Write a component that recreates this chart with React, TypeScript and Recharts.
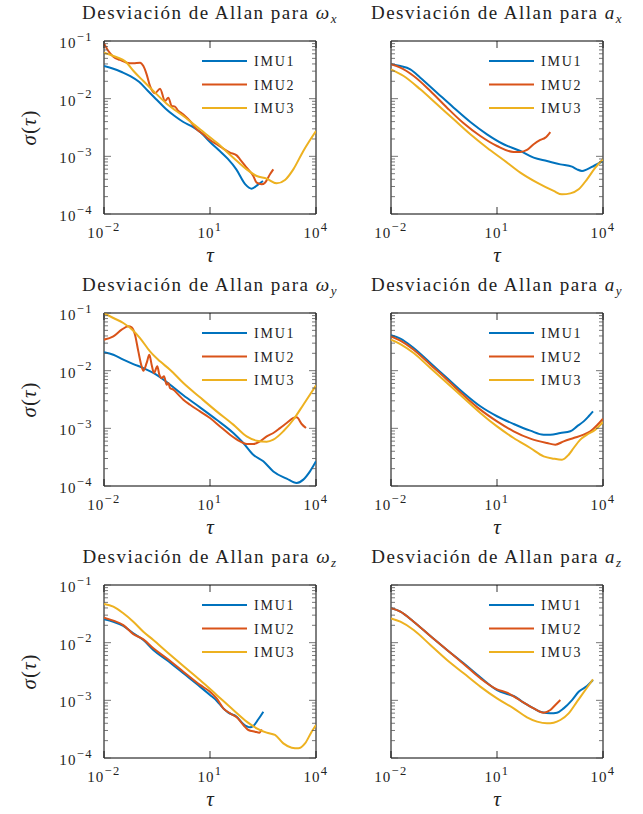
import React from 'react';
import { LineChart, Line, XAxis, YAxis, ReferenceArea, Legend } from 'recharts';

const BLUE = '#0072BD';
const RED = '#D95319';
const YELLOW = '#EDB120';
const FONT = '"Liberation Serif", "Times New Roman", serif';

const imuNames = ['IMU1', 'IMU2', 'IMU3'];
const xTicks = [0.01, 10, 10000];
const yTicks = [
  1e-4, 2e-4, 3e-4, 4e-4, 5e-4, 6e-4, 7e-4, 8e-4, 9e-4,
  1e-3, 2e-3, 3e-3, 4e-3, 5e-3, 6e-3, 7e-3, 8e-3, 9e-3,
  1e-2, 2e-2, 3e-2, 4e-2, 5e-2, 6e-2, 7e-2, 8e-2, 9e-2, 1e-1,
];

// [tau, sigma]
const wxImu1 = [[0.01,0.0368],[0.0184,0.0331],[0.0316,0.029],[0.0556,0.0247],[0.1,0.0195],[0.176,0.0136],[0.316,0.0095],[0.557,0.0067],[1,0.005],[1.76,0.00394],[3.16,0.00327],[5.56,0.00257],[10,0.00177],[17.6,0.00129],[31.6,0.00091],[55.5,0.000595],[100,0.000327],[151,0.000275],[233,0.000327],[316,0.000374]];
const wxImu2 = [[0.01,0.0912],[0.0133,0.0671],[0.0184,0.0535],[0.0284,0.0469],[0.0438,0.0421],[0.0676,0.041],[0.1045,0.0421],[0.13,0.0368],[0.161,0.0264],[0.2,0.0166],[0.277,0.0124],[0.385,0.0149],[0.532,0.00912],[0.662,0.0104],[0.822,0.00746],[1.02,0.00727],[1.27,0.00611],[1.58,0.00557],[1.96,0.005],[2.72,0.0041],[4.19,0.00294],[6.48,0.00241],[10,0.00192],[15.4,0.00162],[23.8,0.00136],[36.8,0.00116],[56.9,0.00104],[70.6,0.000888],[109,0.000636],[168,0.000456],[209,0.000349],[290,0.000327],[360,0.000349],[499,0.000488],[620,0.000595]];
const wxImu3 = [[0.01,0.0628],[0.0184,0.055],[0.0438,0.0421],[0.0676,0.0305],[0.13,0.0202],[0.249,0.0136],[0.594,0.00819],[1.76,0.005],[5.21,0.00294],[15.4,0.00173],[45.7,0.000948],[109,0.000595],[209,0.000456],[402,0.00041],[771,0.00034],[1327,0.000389],[2281,0.000595],[4382,0.00124],[10000,0.00275]];

const axImu1 = [[0.01,0.0394],[0.0184,0.0368],[0.0352,0.0323],[0.0676,0.0231],[0.2,0.0127],[0.594,0.00698],[1.76,0.00394],[5.21,0.00241],[15.4,0.00162],[45.7,0.00124],[109,0.000948],[260,0.00083],[620,0.000726],[1327,0.000662],[1837,0.000595],[2546,0.000557],[3524,0.000595],[5445,0.00068],[10000,0.00083]];
const axImu2 = [[0.01,0.0394],[0.0184,0.0345],[0.0438,0.0247],[0.13,0.0136],[0.385,0.00698],[1.14,0.00374],[3.37,0.00225],[10,0.00151],[29.6,0.00119],[45.7,0.00119],[70.6,0.00129],[109,0.00162],[168,0.00192],[233,0.00211],[323,0.00264]];
const axImu3 = [[0.01,0.0323],[0.0228,0.0247],[0.0676,0.0145],[0.2,0.00798],[0.594,0.00438],[1.76,0.00241],[5.21,0.00141],[15.4,0.000864],[45.7,0.000521],[136,0.000349],[402,0.000251],[691,0.000219],[1189,0.000228],[2047,0.000268],[3524,0.000399],[6068,0.000636],[10000,0.000888]];

const wyImu1 = [[0.01,0.0208],[0.0184,0.0189],[0.0352,0.0155],[0.0676,0.013],[0.13,0.0111],[0.249,0.00912],[0.594,0.00636],[1.76,0.00374],[5.21,0.00231],[15.4,0.00141],[45.7,0.00083],[87.8,0.000557],[168,0.000349],[323,0.000268],[620,0.000179],[1479,0.000134],[2838,0.000113],[4382,0.000129],[6761,0.000179],[10000,0.000268]];
const wyImu2 = [[0.01,0.0345],[0.0184,0.0394],[0.0316,0.0514],[0.0489,0.0588],[0.0607,0.0564],[0.0754,0.0421],[0.0937,0.0216],[0.116,0.0119],[0.13,0.01],[0.161,0.0136],[0.192,0.0189],[0.223,0.0127],[0.26,0.00912],[0.323,0.0119],[0.368,0.00853],[0.429,0.00746],[0.499,0.00798],[0.594,0.00572],[0.662,0.00611],[0.738,0.005],[0.917,0.00469],[1.27,0.00384],[1.76,0.00314],[2.72,0.00257],[5.21,0.00197],[10,0.00151],[19.2,0.00108],[36.8,0.000776],[70.6,0.000595],[109,0.000535],[168,0.000535],[260,0.000595],[402,0.000726],[620,0.00083],[958,0.00101],[1479,0.00124],[2281,0.00151],[2838,0.00155],[3928,0.00119],[5212,0.00101]];
const wyImu3 = [[0.01,0.1],[0.0184,0.0819],[0.0352,0.0671],[0.0676,0.0494],[0.1045,0.0368],[0.2,0.0216],[0.385,0.0145],[0.738,0.0104],[1.76,0.00611],[5.21,0.00345],[15.4,0.00197],[45.7,0.00116],[109,0.000726],[209,0.000611],[402,0.000588],[620,0.000636],[1189,0.000888],[2281,0.00141],[4382,0.00257],[10000,0.00557]];

const ayImu1 = [[0.01,0.041],[0.0184,0.0359],[0.0438,0.0247],[0.13,0.0136],[0.385,0.00746],[1.14,0.0041],[3.37,0.00241],[10,0.00162],[29.6,0.00119],[87.8,0.000912],[209,0.000776],[323,0.000776],[620,0.00083],[1189,0.000888],[1837,0.00108],[2838,0.00132],[3928,0.00162],[5212,0.00197]];
const ayImu2 = [[0.01,0.0394],[0.0184,0.0331],[0.0438,0.0231],[0.13,0.0127],[0.385,0.00698],[1.14,0.00374],[3.37,0.00211],[10,0.00132],[29.6,0.000888],[87.8,0.000662],[260,0.000557],[448,0.000521],[771,0.000595],[1479,0.00068],[2838,0.000776],[4382,0.000888],[6761,0.00113],[10000,0.00147]];
const ayImu3 = [[0.01,0.0345],[0.0184,0.029],[0.0438,0.0202],[0.13,0.0111],[0.385,0.00611],[1.14,0.00336],[3.37,0.00185],[10,0.00108],[29.6,0.00068],[87.8,0.000456],[209,0.000327],[402,0.000298],[691,0.000286],[1067,0.000349],[1479,0.000456],[2281,0.000636],[3524,0.000776],[6068,0.000948],[10000,0.00129]];

const wzImu1 = [[0.01,0.0254],[0.0184,0.0231],[0.0352,0.0195],[0.0676,0.0145],[0.13,0.0111],[0.249,0.00746],[0.594,0.005],[1.76,0.00294],[5.21,0.00173],[10,0.00124],[15.4,0.000986],[23.8,0.000726],[33,0.000611],[56.9,0.000521],[87.8,0.000389],[136,0.00034],[168,0.000359],[233,0.000469],[323,0.000636]];
const wzImu2 = [[0.01,0.0272],[0.0184,0.0241],[0.0352,0.0202],[0.0676,0.0141],[0.13,0.0114],[0.249,0.00798],[0.594,0.00535],[1.76,0.00314],[5.21,0.00185],[10,0.00141],[15.4,0.00108],[23.8,0.000726],[36.8,0.000595],[56.9,0.000507],[87.8,0.000374],[122,0.000306],[188,0.000286],[249,0.000275],[290,0.000314]];
const wzImu3 = [[0.01,0.0469],[0.0184,0.0421],[0.0352,0.0323],[0.0676,0.0231],[0.13,0.0155],[0.249,0.0111],[0.594,0.00698],[1.76,0.00394],[5.21,0.00225],[15.4,0.00124],[45.7,0.00068],[109,0.000427],[209,0.000327],[402,0.000275],[691,0.000251],[1189,0.000179],[2047,0.000151],[3162,0.000147],[4887,0.000179],[7535,0.000286],[10000,0.000374]];

const azImu1 = [[0.01,0.0394],[0.0184,0.0345],[0.0438,0.0231],[0.13,0.013],[0.385,0.00746],[1.14,0.00438],[3.37,0.00251],[10,0.00151],[19.2,0.00129],[29.6,0.00119],[56.9,0.000912],[109,0.000726],[188,0.000619],[323,0.000595],[499,0.000611],[771,0.000726],[1327,0.00101],[2047,0.00141],[3524,0.00177],[5212,0.00225]];
const azImu2 = [[0.01,0.0394],[0.0184,0.0345],[0.0438,0.0231],[0.13,0.013],[0.385,0.00746],[1.14,0.00427],[3.37,0.00241],[10,0.00155],[19.2,0.00136],[36.8,0.00108],[56.9,0.000912],[109,0.000726],[209,0.000611],[323,0.00068],[448,0.00083],[620,0.00101]];
const azImu3 = [[0.01,0.0264],[0.0184,0.0231],[0.0438,0.0166],[0.13,0.00912],[0.385,0.005],[1.14,0.00294],[3.37,0.00173],[10,0.00108],[29.6,0.000726],[70.6,0.000507],[136,0.000427],[260,0.000399],[402,0.00041],[620,0.000456],[1067,0.000595],[1837,0.000948],[3162,0.00151],[5212,0.00231]];

// plot area size and placement
const PW = 212;
const PH = 173;
const L = 90;
const T = 10;
const R = 20;
const B = 60;
const colX = [104, 391];
const rowY = [41, 313, 585];

const panels = [
  { sym: 'ω', sub: 'x', row: 0, col: 0, series: [wxImu1, wxImu2, wxImu3] },
  { sym: 'a', sub: 'x', row: 0, col: 1, series: [axImu1, axImu2, axImu3] },
  { sym: 'ω', sub: 'y', row: 1, col: 0, series: [wyImu1, wyImu2, wyImu3] },
  { sym: 'a', sub: 'y', row: 1, col: 1, series: [ayImu1, ayImu2, ayImu3] },
  { sym: 'ω', sub: 'z', row: 2, col: 0, series: [wzImu1, wzImu2, wzImu3] },
  { sym: 'a', sub: 'z', row: 2, col: 1, series: [azImu1, azImu2, azImu3] },
];
const colors = [BLUE, RED, YELLOW];

const toPts = (a: number[][]) => a.map(([t, s]) => ({ t, s }));

const expText = (v: number) => {
  const e = Math.round(Math.log10(v));
  return e < 0 ? '\u2212' + -e : String(e);
};

function XTick(props: any) {
  const { x, y, payload } = props;
  const v = payload.value;
  return (
    <g>
      <line x1={x} y1={y} x2={x} y2={y - 7} stroke="#000" strokeWidth={0.8} />
      <line x1={x} y1={y - PH} x2={x} y2={y - PH + 7} stroke="#000" strokeWidth={0.8} />
      <text x={x} y={y + 24} textAnchor="middle" fontFamily={FONT} fontSize={15} letterSpacing={1.2} fill="#222">
        10<tspan dy={-7.5} fontSize={12.5} letterSpacing={1.5}>{expText(v)}</tspan>
      </text>
    </g>
  );
}

function YTick(props: any) {
  const { x, y, payload, labels } = props;
  const v = payload.value;
  const lg = Math.log10(v);
  const major = Math.abs(lg - Math.round(lg)) < 1e-6;
  const len = major ? 7 : 4;
  return (
    <g>
      <line x1={x} y1={y} x2={x + len} y2={y} stroke="#555" strokeWidth={0.8} />
      <line x1={x + PW} y1={y} x2={x + PW - len} y2={y} stroke="#555" strokeWidth={0.8} />
      {major && labels ? (
        <text x={x - 11} y={y + 7} textAnchor="end" fontFamily={FONT} fontSize={15} letterSpacing={1.2} fill="#222">
          10<tspan dy={-7.5} fontSize={12.5} letterSpacing={1.5}>{expText(v)}</tspan>
        </text>
      ) : null}
    </g>
  );
}

function LegendBox(props: any) {
  const items = props.payload || [];
  return (
    <svg width={110} height={80}>
      {items.map((it: any, i: number) => (
        <g key={it.value}>
          <line x1={0} x2={45} y1={10 + i * 23.5} y2={10 + i * 23.5} stroke={it.color} strokeWidth={2} />
          <text x={52} y={15 + i * 23.5} fontFamily={FONT} fontSize={14} letterSpacing={1.8} fill="#222">
            {it.value}
          </text>
        </g>
      ))}
    </svg>
  );
}

function Panel({ p }: { p: (typeof panels)[number] }) {
  const left = colX[p.col] - L;
  const top = rowY[p.row] - T;
  return (
    <div style={{ position: 'absolute', left, top }}>
      <LineChart width={PW + L + R} height={PH + T + B} margin={{ top: T, right: R, bottom: B - 30, left: L - 50 }}>
        <XAxis
          type="number"
          dataKey="t"
          scale="log"
          domain={[0.01, 10000]}
          allowDataOverflow
          ticks={xTicks}
          interval={0}
          height={30}
          tickSize={0}
          tickMargin={0}
          tickLine={false}
          axisLine={false}
          tick={(tp: any) => <XTick {...tp} />}
        />
        <YAxis
          type="number"
          dataKey="s"
          scale="log"
          domain={[1e-4, 0.1]}
          allowDataOverflow
          ticks={yTicks}
          interval={0}
          width={50}
          tickSize={0}
          tickMargin={0}
          tickLine={false}
          axisLine={false}
          tick={(tp: any) => <YTick {...tp} labels={p.col === 0} />}
        />
        <Legend
          layout="vertical"
          align="center"
          verticalAlign="middle"
          wrapperStyle={{ left: L + 98, top: T + 10, width: 110, height: 80 }}
          content={(lp: any) => <LegendBox {...lp} />}
        />
        {p.series.map((s, i) => (
          <Line
            key={imuNames[i]}
            data={toPts(s)}
            dataKey="s"
            name={imuNames[i]}
            type="monotone"
            stroke={colors[i]}
            strokeWidth={2}
            dot={false}
            isAnimationActive={false}
          />
        ))}
        <ReferenceArea x1={0.01} x2={10000} y1={1e-4} y2={0.1} fill="none" stroke="#000" strokeWidth={1} />
      </LineChart>
    </div>
  );
}

export default function App() {
  return (
    <div style={{ position: 'absolute', left: 0, top: 0, width: 643, height: 814, background: '#fff' }}>
      {panels.map((p) => (
        <Panel key={p.sym + p.sub} p={p} />
      ))}
      <svg width={643} height={814} style={{ position: 'absolute', left: 0, top: 0, pointerEvents: 'none' }}>
        {panels.map((p) => {
          const cx = colX[p.col] + PW / 2;
          const ty = rowY[p.row];
          return (
            <g key={'t' + p.sym + p.sub} fontFamily={FONT} fill="#222">
              <text x={cx} y={ty - 22} textAnchor="middle" fontSize={19} letterSpacing={1.5}>
                Desviación de Allan para <tspan fontStyle="italic">{p.sym}</tspan>
                <tspan fontStyle="italic" fontSize={13} dy={4}>{p.sub}</tspan>
              </text>
              <text x={cx} y={ty + PH + 48} textAnchor="middle" fontSize={21} fontStyle="italic">
                τ
              </text>
              {p.col === 0 ? (
                <text transform={`translate(36, ${ty + PH / 2}) rotate(-90)`} textAnchor="middle" fontSize={21} letterSpacing={1}>
                  <tspan fontStyle="italic">σ</tspan>(<tspan fontStyle="italic">τ</tspan>)
                </text>
              ) : null}
            </g>
          );
        })}
      </svg>
    </div>
  );
}
